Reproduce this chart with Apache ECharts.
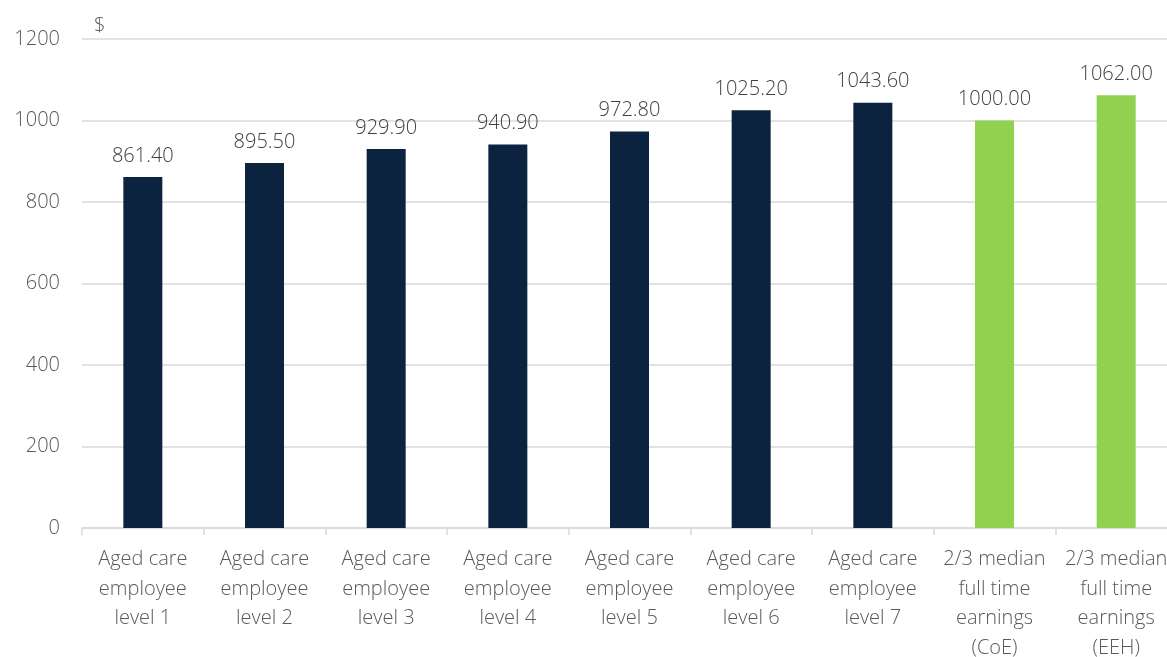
<!DOCTYPE html>
<html>
<head>
<meta charset="utf-8">
<script src="https://cdn.jsdelivr.net/npm/echarts@6/dist/echarts.min.js"></script>
<style>
  html, body { margin: 0; padding: 0; background: #fff; }
  #chart { width: 1167px; height: 657px; }
</style>
</head>
<body>
<div id="chart"></div>
<script>
// categories and weekly amounts ($)
const categories = [
  'Aged care\nemployee\nlevel 1',
  'Aged care\nemployee\nlevel 2',
  'Aged care\nemployee\nlevel 3',
  'Aged care\nemployee\nlevel 4',
  'Aged care\nemployee\nlevel 5',
  'Aged care\nemployee\nlevel 6',
  'Aged care\nemployee\nlevel 7',
  '2/3 median\nfull time\nearnings\n(CoE)',
  '2/3 median\nfull time\nearnings\n(EEH)',
];
const values = [861.40, 895.50, 929.90, 940.90, 972.80, 1025.20, 1043.60, 1000.00, 1062.00];
const barColors = ['#0c2340', '#0c2340', '#0c2340', '#0c2340', '#0c2340', '#0c2340', '#0c2340', '#92d050', '#92d050'];

const FONT = '"Open Sans", sans-serif';
const myChart = echarts.init(document.getElementById('chart'));

const option = {
  animation: false,
  grid: {
    left: 82,
    width: 1095,
    top: 39,
    bottom: 129,
    outerBoundsMode: 'none',
  },
  xAxis: {
    type: 'category',
    data: categories,
    axisLine: { lineStyle: { color: '#d9d9d9', width: 1.5 } },
    axisTick: { show: true, length: 7, lineStyle: { color: '#d9d9d9', width: 1.5 } },
    axisLabel: {
      color: '#595959',
      fontFamily: FONT,
      fontWeight: 300,
      fontSize: 20,
      lineHeight: 29.5,
      margin: 17,
      interval: 0,
    },
  },
  yAxis: {
    type: 'value',
    min: 0,
    max: 1200,
    interval: 200,
    name: '$',
    nameLocation: 'end',
    nameGap: 3,
    nameTextStyle: {
      color: '#595959',
      fontFamily: FONT,
      fontWeight: 300,
      fontSize: 20,
      align: 'left',
      padding: [0, 0, 0, 12],
    },
    axisLine: { show: false },
    axisTick: { show: false },
    axisLabel: {
      color: '#595959',
      fontFamily: FONT,
      fontWeight: 300,
      fontSize: 20,
      margin: 22,
      formatter: (v) => String(v),
    },
    splitLine: { lineStyle: { color: '#d9d9d9', width: 1.5 } },
  },
  series: [
    {
      type: 'bar',
      barWidth: 39,
      data: values.map((v, i) => ({ value: v, itemStyle: { color: barColors[i] } })),
      label: {
        show: true,
        position: 'top',
        distance: 11,
        color: '#404040',
        fontFamily: FONT,
        fontWeight: 300,
        fontSize: 20,
        formatter: (p) => p.value.toFixed(2),
      },
    },
  ],
};
myChart.setOption(option);
</script>
</body>
</html>
